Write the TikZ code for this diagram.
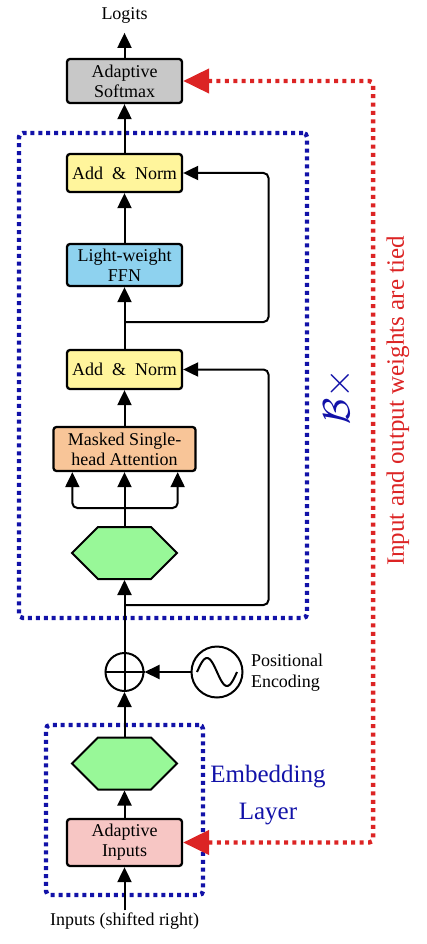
\RequirePackage{fix-cm}
\documentclass[tikz,border=0pt]{standalone}
\usepackage{fontspec}
\setmainfont{Liberation Serif}
\usetikzlibrary{arrows.meta,shapes.symbols}
\definecolor{softgray}{HTML}{C8C8C8}
\definecolor{normyellow}{HTML}{FFF59C}
\definecolor{ffnblue}{HTML}{8ED2EF}
\definecolor{attnorange}{HTML}{F8C598}
\definecolor{inpink}{HTML}{F7C6C4}
\definecolor{hexgreen}{HTML}{98F898}
\definecolor{dotblue}{HTML}{1212A8}
\definecolor{tiedred}{HTML}{DC2424}

\begin{document}
\begin{tikzpicture}[
    x=1pt, y=-1pt,
    line width=2pt,
    arr/.style={-{Triangle[length=15pt,width=14pt]}, line width=2pt},
    blk/.style={draw, line width=2.3pt, rounded corners=3pt, minimum width=115pt,
      inner sep=0pt, align=center, font=\fontsize{18}{20}\selectfont},
    hexa/.style={draw, line width=2pt, fill=hexgreen, signal, signal to=east and west,
      signal pointer angle=90, minimum width=105pt, minimum height=52pt, inner sep=0pt},
    dotbox/.style={draw=dotblue, line width=4.4pt, dash pattern=on 4pt off 3.9pt,
      rounded corners=4pt, inner sep=0pt},
    tied/.style={draw=tiedred, line width=4.4pt, dash pattern=on 4pt off 4.4pt,
      rounded corners=4pt},
    lbl/.style={font=\fontsize{18}{21}\selectfont, inner sep=1pt}
  ]
  \useasboundingbox (0,0) rectangle (427,944);

  % Dotted groups
  \node[dotbox, minimum width=288pt, minimum height=485pt] (block) at (163,375.5) {};
  \node[dotbox, minimum width=157pt, minimum height=170pt] (embed) at (124.5,810) {};

  % Blocks
  \node[blk, fill=softgray, minimum height=44pt] (softmax) at (124.5,81) {Adaptive\\Softmax};
  \node[lbl, anchor=base] (logits) at (124.5,20) {Logits};
  \node[blk, fill=normyellow, minimum height=38pt] (norm2) at (124.5,173) {Add~~\&~~Norm};
  \node[blk, fill=ffnblue, minimum height=42pt] (ffn) at (124.5,265) {Light-weight\\FFN};
  \node[blk, fill=normyellow, minimum height=39pt] (norm1) at (124.5,369.5) {Add~~\&~~Norm};
  \node[blk, fill=attnorange, minimum width=142pt, minimum height=44pt] (attn) at (124.5,449)
    {Masked~Single-\\head~Attention};
  \node[hexa] (hex1) at (124.5,553) {};
  \node[circle, draw, minimum size=38pt, inner sep=0pt] (plus) at (124.5,672) {};
  \node[circle, draw, minimum size=51pt, inner sep=0pt] (wave) at (217,672) {};
  \node[lbl, anchor=west, align=left, inner sep=0pt] (posenc) at (250,673) {Positional\\Encoding};
  \node[hexa] (hex2) at (124.5,763.5) {};
  \node[blk, fill=inpink, minimum height=47pt] (adinp) at (124.5,842.5) {Adaptive\\Inputs};
  \node[lbl, anchor=base] (inputs) at (124.5,925) {Inputs (shifted right)};

  % Symbols inside the circles
  \draw (plus.north) -- (plus.south) (plus.west) -- (plus.east);
  \draw[shift={(wave.center)}, domain=-20:20, samples=50, smooth]
    plot (\x, {14*sin(9*\x)});

  % Side labels
  \node[rotate=90, text=dotblue, font=\fontsize{38}{38}\selectfont] (reps) at (338,397)
    {$\mathcal{B}\times$};
  \node[text=dotblue, align=center, font=\fontsize{25}{37}\selectfont] (emblbl) at (268,795)
    {Embedding\\Layer};
  \node[rotate=90, text=tiedred, font=\fontsize{25}{30}\selectfont] (tiedlbl) at (398,401)
    {Input and output weights are tied};

  % Main flow
  \draw[arr, shorten >=7pt] (softmax) -- (logits);
  \draw[arr] (norm2) -- (softmax);
  \draw[arr] (ffn) -- (norm2);
  \draw[arr] (norm1) -- (ffn);
  \draw[arr] (attn) -- (norm1);
  \draw[arr] (hex1) -- (attn);
  \draw[arr] (plus) -- (hex1);
  \draw[arr] (wave) -- (plus);
  \draw[arr] (hex2) -- (plus);
  \draw[arr] (adinp) -- (hex2);
  \draw[arr] (inputs) -- (adinp);

  % Query, key and value branches
  \coordinate (qkv) at (124.5,508);
  \draw[arr, rounded corners=5pt] (qkv) -| ([xshift=20pt]attn.south west);
  \draw[arr, rounded corners=5pt] (qkv) -| ([xshift=-19pt]attn.south east);

  % Residual connections
  \coordinate (skip1) at (124.5,605);
  \coordinate (skip2) at (124.5,322);
  \draw[arr, rounded corners=5pt] (skip1) -- ++(144,0) |- (norm1.east);
  \draw[arr, rounded corners=5pt] (skip2) -- ++(144,0) |- (norm2.east);

  % Tied weights
  \draw[tied, {Triangle[length=26pt,width=24pt]}-{Triangle[length=26pt,width=24pt]}]
    (softmax.east) -- ++(190,0) |- (adinp.east);
\end{tikzpicture}
\end{document}
